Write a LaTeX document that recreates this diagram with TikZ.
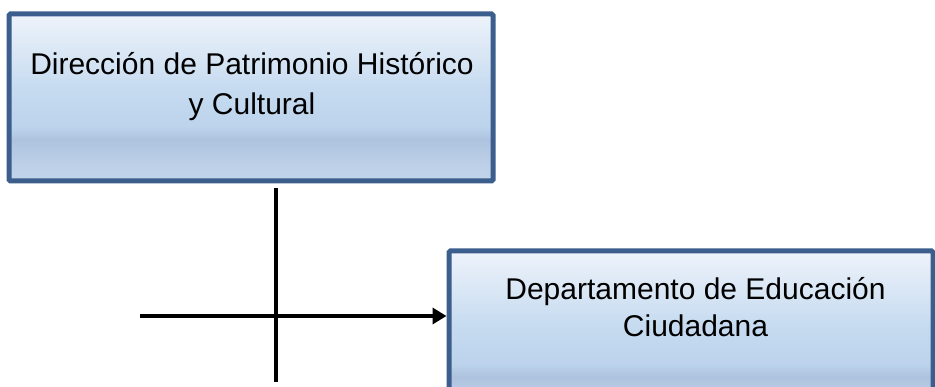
\documentclass[tikz,border=0pt]{standalone}
\usepackage{fontspec}
\setmainfont{Liberation Sans}
\usepackage{xcolor}
\usetikzlibrary{arrows.meta, positioning}

\definecolor{borde}{RGB}{59,94,140}
\definecolor{gradbajo}{RGB}{194,212,234}
\definecolor{gradbajob}{RGB}{189,208,232}
\definecolor{gradbanda}{RGB}{174,195,223}
\definecolor{gradbandab}{RGB}{188,211,236}
\definecolor{gradmedio}{RGB}{198,219,240}
\definecolor{gradalto}{RGB}{238,243,250}
\pgfdeclareverticalshading{cajagrad}{100bp}{%
  color(0bp)=(gradbajo);
  color(25bp)=(gradbajo);
  color(30bp)=(gradbajob);
  color(37.5bp)=(gradbanda);
  color(41bp)=(gradbandab);
  color(52.5bp)=(gradmedio);
  color(75bp)=(gradalto);
  color(100bp)=(gradalto)}

\begin{document}
\begin{tikzpicture}[
  x=1pt, y=1pt,
  caja/.style={draw=borde, line width=5pt, shading=cajagrad, rounded corners=1.5pt,
               minimum width=484pt, minimum height=167pt, inner sep=0pt},
  texto/.style={align=center, inner sep=0pt, text=black},
  conn/.style={line width=4.5pt, black},
  flecha/.style={conn, -{Triangle[length=14pt, width=16pt]}},
]
\useasboundingbox (0,0) rectangle (935,387);
\clip (0,0) rectangle (935,387);

%% ---- boxes ----
\node[caja] (direccion) at (251,289.5) {};
\node[caja] (educacion) at (691,52.5) {};

\node[texto, font=\fontsize{30}{40}\selectfont] (direccion-t) at (252,300.4)
  {Dirección de Patrimonio Histórico\\y Cultural};
\node[texto, font=\fontsize{30}{37.6}\selectfont] (educacion-t) at (695.5,80)
  {Departamento de Educación\\Ciudadana};

%% ---- connectors ----
\coordinate (cruce) at (276,71);
\coordinate (fin) at (276,5);
\coordinate (inicio) at (140,71);

\draw[conn, shorten <=5pt] (direccion.south -| cruce) -- (fin);
\draw[flecha] (inicio) -- (cruce -| educacion.west);

\end{tikzpicture}
\end{document}
